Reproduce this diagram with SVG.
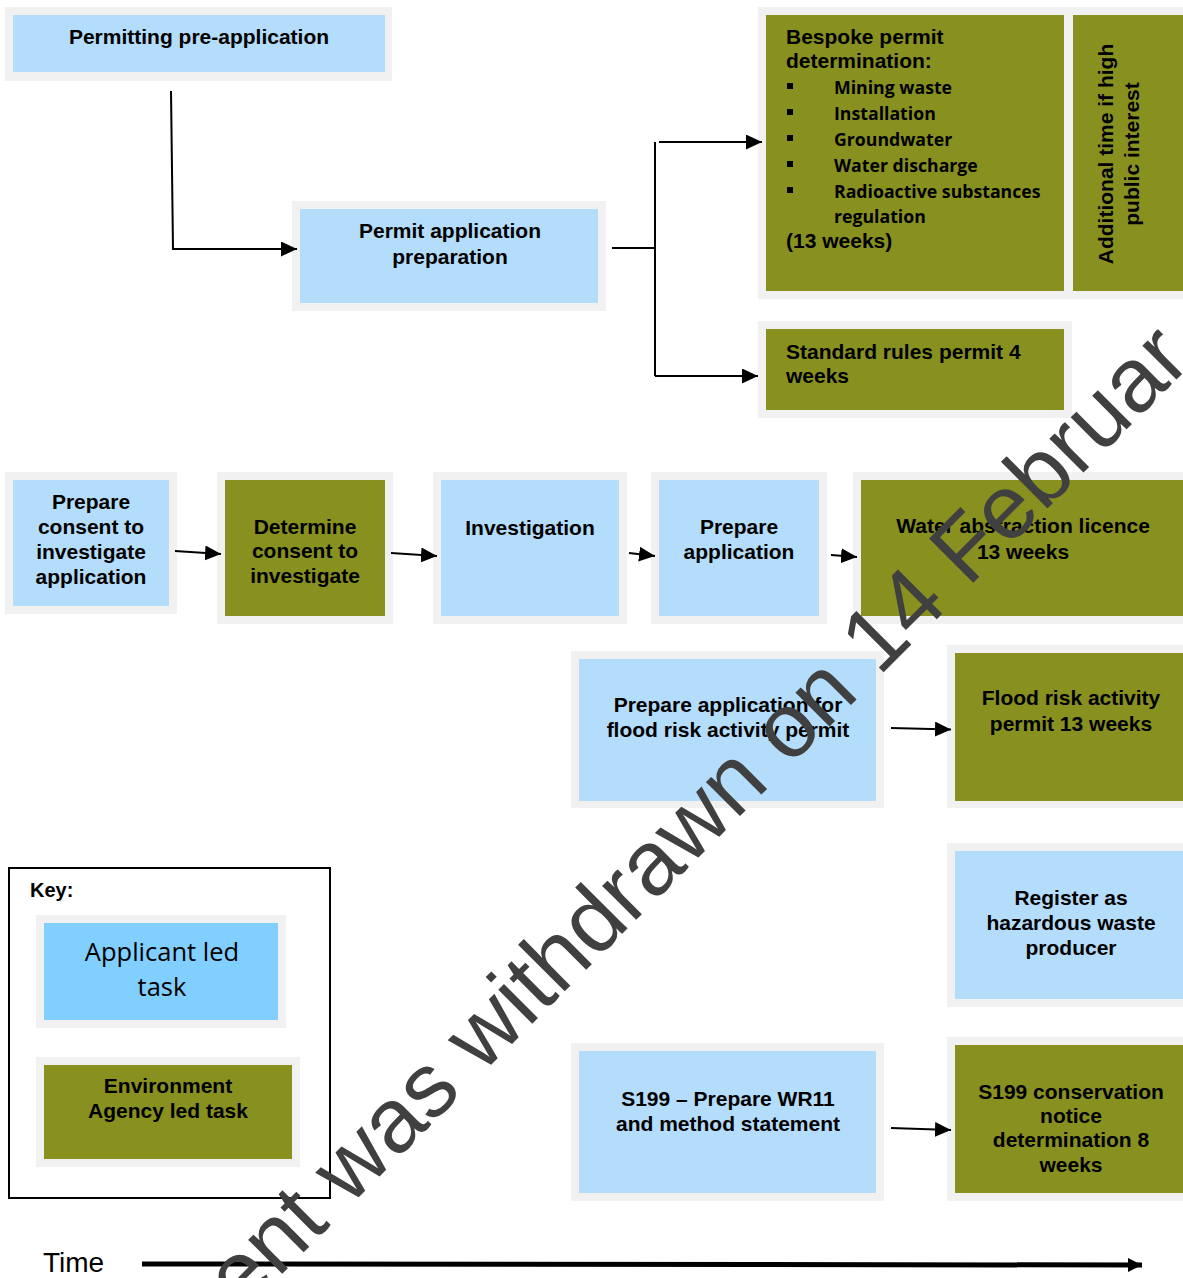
<svg xmlns="http://www.w3.org/2000/svg" width="1183" height="1278" viewBox="0 0 1183 1278">
<style>
.frame{fill:#f1f1f1}
.blue{fill:#b4dcfb}
.olive{fill:#88911f}
.keyblue{fill:#80cfff}
.t{font-family:"Liberation Sans",Arial,sans-serif;font-weight:bold;font-size:21px;fill:#000}
.c{text-anchor:middle}
.b{font-family:"Open Sans","Liberation Sans",sans-serif;font-weight:bold;font-size:17.7px;fill:#000}
.k{font-family:"Open Sans","Liberation Sans",sans-serif;font-size:25.5px;fill:#000;text-anchor:middle}
.ln{stroke:#000;stroke-width:2;fill:none}
.wm{font-family:"Liberation Sans",Arial,sans-serif;font-size:91px;fill:#404040}
</style>
<defs>
<marker id="ah" viewBox="0 0 16 15" refX="16" refY="7.5" markerWidth="16" markerHeight="15" markerUnits="userSpaceOnUse" orient="auto">
<path d="M0,0 L16,7.5 L0,15 z" fill="#000"/>
</marker>
<marker id="ahT" viewBox="0 0 14 14" refX="14" refY="7" markerWidth="14" markerHeight="14" markerUnits="userSpaceOnUse" orient="auto">
<path d="M0,0 L14,7 L0,14 z" fill="#000"/>
</marker>
</defs>
<rect width="1183" height="1278" fill="#fff"/>

<g id="n-preapp">
<rect class="frame" x="5" y="7" width="387" height="74"/>
<rect class="blue" x="13" y="15" width="372" height="57"/>
<text class="t c" x="199" y="44">Permitting pre-application</text>
</g>

<g id="n-appprep">
<rect class="frame" x="292" y="201" width="314" height="110"/>
<rect class="blue" x="300" y="209" width="298" height="94"/>
<text class="t c" x="450" y="238">Permit application</text>
<text class="t c" x="450" y="264">preparation</text>
</g>

<g id="n-bespoke">
<rect class="frame" x="758" y="7" width="425" height="292"/>
<rect class="olive" x="766" y="15" width="298" height="276"/>
<text class="t" x="786" y="44">Bespoke permit</text>
<text class="t" x="786" y="68">determination:</text>
<rect x="787" y="83" width="6" height="6" fill="#000"/>
<rect x="787" y="109" width="6" height="6" fill="#000"/>
<rect x="787" y="135" width="6" height="6" fill="#000"/>
<rect x="787" y="161" width="6" height="6" fill="#000"/>
<rect x="787" y="187" width="6" height="6" fill="#000"/>
<text class="b" x="834" y="94">Mining waste</text>
<text class="b" x="834" y="120">Installation</text>
<text class="b" x="834" y="146">Groundwater</text>
<text class="b" x="834" y="172">Water discharge</text>
<text class="b" x="834" y="198">Radioactive substances</text>
<text class="b" x="834" y="223">regulation</text>
<text class="t" x="786" y="248">(13 weeks)</text>
</g>

<g id="n-additional">
<rect class="olive" x="1073" y="15" width="110" height="276"/>
<text class="t c" transform="translate(1113,154) rotate(-90)">Additional time if high</text>
<text class="t c" transform="translate(1139,154) rotate(-90)">public interest</text>
</g>

<g id="n-standard">
<rect class="frame" x="758" y="321" width="314" height="97"/>
<rect class="olive" x="766" y="329" width="298" height="81"/>
<text class="t" x="786" y="359">Standard rules permit 4</text>
<text class="t" x="786" y="383">weeks</text>
</g>

<g id="n-prepconsent">
<rect class="frame" x="5" y="472" width="172" height="142"/>
<rect class="blue" x="13" y="480" width="156" height="126"/>
<text class="t c" x="91" y="509">Prepare</text>
<text class="t c" x="91" y="534">consent to</text>
<text class="t c" x="91" y="559">investigate</text>
<text class="t c" x="91" y="584">application</text>
</g>

<g id="n-detconsent">
<rect class="frame" x="217" y="472" width="176" height="152"/>
<rect class="olive" x="225" y="480" width="160" height="136"/>
<text class="t c" x="305" y="534">Determine</text>
<text class="t c" x="305" y="558">consent to</text>
<text class="t c" x="305" y="583">investigate</text>
</g>

<g id="n-investigation">
<rect class="frame" x="433" y="472" width="194" height="152"/>
<rect class="blue" x="441" y="480" width="178" height="136"/>
<text class="t c" x="530" y="535">Investigation</text>
</g>

<g id="n-prepapp">
<rect class="frame" x="651" y="472" width="176" height="152"/>
<rect class="blue" x="659" y="480" width="160" height="136"/>
<text class="t c" x="739" y="534">Prepare</text>
<text class="t c" x="739" y="559">application</text>
</g>

<g id="n-water">
<rect class="frame" x="853" y="472" width="330" height="152"/>
<rect class="olive" x="861" y="480" width="322" height="136"/>
<text class="t c" x="1023" y="533">Water abstraction licence</text>
<text class="t c" x="1023" y="559">13 weeks</text>
</g>

<g id="n-floodprep">
<rect class="frame" x="571" y="651" width="313" height="157"/>
<rect class="blue" x="579" y="659" width="297" height="142"/>
<text class="t c" x="728" y="712">Prepare application for</text>
<text class="t c" x="728" y="737">flood risk activity permit</text>
</g>

<g id="n-flood">
<rect class="frame" x="947" y="645" width="236" height="163"/>
<rect class="olive" x="955" y="653" width="228" height="148"/>
<text class="t c" x="1071" y="705">Flood risk activity</text>
<text class="t c" x="1071" y="731">permit 13 weeks</text>
</g>

<g id="n-hazard">
<rect class="frame" x="947" y="843" width="236" height="164"/>
<rect class="blue" x="955" y="851" width="228" height="148"/>
<text class="t c" x="1071" y="905">Register as</text>
<text class="t c" x="1071" y="930">hazardous waste</text>
<text class="t c" x="1071" y="955">producer</text>
</g>

<g id="n-s199prep">
<rect class="frame" x="571" y="1043" width="313" height="158"/>
<rect class="blue" x="579" y="1051" width="297" height="142"/>
<text class="t c" x="728" y="1106">S199 – Prepare WR11</text>
<text class="t c" x="728" y="1131">and method statement</text>
</g>

<g id="n-s199">
<rect class="frame" x="947" y="1037" width="236" height="164"/>
<rect class="olive" x="955" y="1045" width="228" height="148"/>
<text class="t c" x="1071" y="1099">S199 conservation</text>
<text class="t c" x="1071" y="1123">notice</text>
<text class="t c" x="1071" y="1147">determination 8</text>
<text class="t c" x="1071" y="1172">weeks</text>
</g>

<g id="key">
<rect x="9" y="868" width="321" height="330" fill="none" stroke="#000" stroke-width="2"/>
<text class="t" x="30" y="897" style="font-size:20px">Key:</text>
<rect class="frame" x="36" y="915" width="250" height="113"/>
<rect class="keyblue" x="44" y="923" width="234" height="97"/>
<text class="k" x="162" y="961">Applicant led</text>
<text class="k" x="162" y="996">task</text>
<rect class="frame" x="36" y="1057" width="264" height="110"/>
<rect class="olive" x="44" y="1065" width="248" height="94"/>
<text class="t c" x="168" y="1093">Environment</text>
<text class="t c" x="168" y="1118">Agency led task</text>
</g>

<g id="connectors">
<polyline class="ln" points="171,91 173,249 297,249" marker-end="url(#ah)"/>
<line class="ln" x1="612" y1="248" x2="655" y2="248"/>
<line class="ln" x1="655" y1="142" x2="655" y2="376"/>
<line class="ln" x1="659" y1="142" x2="762" y2="142" marker-end="url(#ah)"/>
<line class="ln" x1="655" y1="376" x2="758" y2="376" marker-end="url(#ah)"/>
<line class="ln" x1="175" y1="551" x2="221" y2="554" marker-end="url(#ah)"/>
<line class="ln" x1="391" y1="553" x2="437" y2="556" marker-end="url(#ah)"/>
<line class="ln" x1="629" y1="553" x2="655" y2="556" marker-end="url(#ah)"/>
<line class="ln" x1="831" y1="555" x2="857" y2="557" marker-end="url(#ah)"/>
<line class="ln" x1="891" y1="728" x2="951" y2="729.5" marker-end="url(#ah)"/>
<line class="ln" x1="891" y1="1128" x2="951" y2="1130" marker-end="url(#ah)"/>
</g>

<g id="time">
<text x="43" y="1272" style="font-family:'Liberation Sans',Arial,sans-serif;font-size:28px;fill:#000">Time</text>
<line x1="142" y1="1264" x2="1142" y2="1265" stroke="#000" stroke-width="5" marker-end="url(#ahT)"/>
</g>

<text class="wm" transform="translate(242,1314) rotate(-45)">ent was withdrawn on 14 Februar</text>
</svg>
